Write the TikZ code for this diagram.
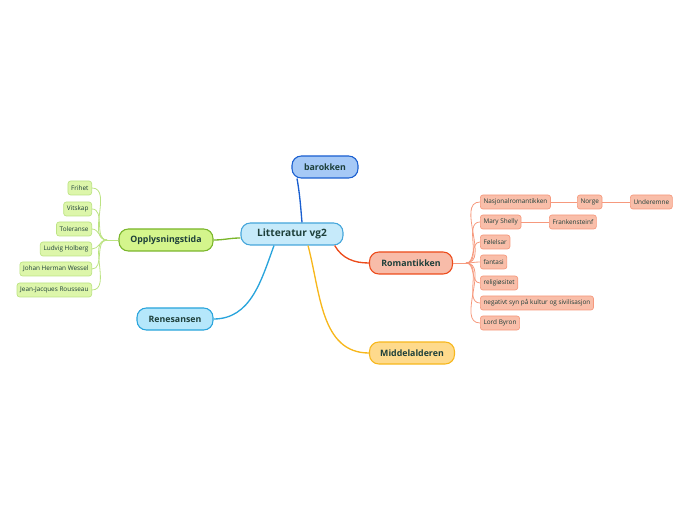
\documentclass[tikz,border=0pt]{standalone}
\usepackage{fontspec}
\setmainfont{Open Sans}
\usetikzlibrary{positioning}

\definecolor{txt}{HTML}{1D3F3A}
\definecolor{rootfill}{HTML}{C6EAFA}
\definecolor{rootline}{HTML}{45A6DB}
\definecolor{barfill}{HTML}{A6C9F6}
\definecolor{barline}{HTML}{1A5FD0}
\definecolor{oppfill}{HTML}{D4F58C}
\definecolor{oppline}{HTML}{7AB62A}
\definecolor{oppleaf}{HTML}{DDF6AA}
\definecolor{oppleafline}{HTML}{BCE383}
\definecolor{romfill}{HTML}{F8BCA9}
\definecolor{romline}{HTML}{EC4B1B}
\definecolor{romleaf}{HTML}{F9BEA9}
\definecolor{romleafline}{HTML}{F6997D}
\definecolor{renfill}{HTML}{B5E7FB}
\definecolor{renline}{HTML}{29A4DC}
\definecolor{midfill}{HTML}{FEDA8C}
\definecolor{midline}{HTML}{F7B71C}

\begin{document}
\begin{tikzpicture}[x=0.75pt,y=-0.75pt,
  topic/.style={draw, line width=0.8pt, rounded corners=7pt, minimum height=16.5pt,
    inner xsep=2pt, text=txt, font=\fontsize{6.6}{7}\selectfont\bfseries},
  leaf/.style={draw, line width=0.5pt, rounded corners=2pt, minimum height=10.5pt,
    inner xsep=2.4pt, inner ysep=0pt, text=txt, font=\fontsize{4.8}{5}\selectfont}]
\useasboundingbox (0,0) rectangle (696,520);

% main topics
\node[topic, fill=rootfill, draw=rootline, minimum width=76.5pt, font=\fontsize{7.6}{8}\selectfont\bfseries] (root) at (292,234) {Litteratur vg2};
\node[topic, fill=barfill, draw=barline, minimum width=49.5pt] (bar) at (325,167) {barokken};
\node[topic, fill=oppfill, draw=oppline, minimum width=70.5pt] (opp) at (166,240) {Opplysningstida};
\node[topic, fill=romfill, draw=romline, minimum width=62.25pt] (rom) at (411,263) {Romantikken};
\node[topic, fill=renfill, draw=renline, minimum width=57pt] (ren) at (175,319) {Renesansen};
\node[topic, fill=midfill, draw=midline, minimum width=63.75pt] (mid) at (412,353) {Middelalderen};

\draw[barline, line width=1pt] ([xshift=7.5pt]root.north) to[out=95,in=-80] ([xshift=-21pt]bar.south);
\draw[oppline, line width=1pt] ([yshift=-3pt]root.west) to[out=180,in=0] (opp.east);
\draw[renline, line width=1pt] ([xshift=-13.5pt]root.south) to[out=-110,in=0] (ren.east);
\draw[midline, line width=1pt] ([xshift=12pt]root.south) to[out=-75,in=180] (mid.west);
\draw[romline, line width=1pt] ([xshift=32pt]root.south) to[out=-60,in=180] (rom.west);

% Opplysningstida
\node[leaf, fill=oppleaf, draw=oppleafline, anchor=east] (o1) at (92,188) {Frihet};
\node[leaf, fill=oppleaf, draw=oppleafline, anchor=east] (o2) at (92,209) {Vitskap};
\node[leaf, fill=oppleaf, draw=oppleafline, anchor=east] (o3) at (92,229) {Toleranse};
\node[leaf, fill=oppleaf, draw=oppleafline, anchor=east] (o4) at (92,249) {Ludvig Holberg};
\node[leaf, fill=oppleaf, draw=oppleafline, anchor=east] (o5) at (92,269) {Johan Herman Wessel};
\node[leaf, fill=oppleaf, draw=oppleafline, anchor=east] (o6) at (92,290) {Jean-Jacques Rousseau};
\coordinate (oppfan) at (107,240);
\draw[oppleafline, line width=0.6pt] (opp.west) -- (oppfan);
\foreach \n in {o1,o2,o3,o4,o5,o6}
  \draw[oppleafline, line width=0.6pt] (oppfan) to[out=180,in=0] (\n.east);

% Romantikken
\node[leaf, fill=romleaf, draw=romleafline, anchor=west] (r1) at (480,202) {Nasjonalromantikken};
\node[leaf, fill=romleaf, draw=romleafline, anchor=west] (r2) at (480,222) {Mary Shelly};
\node[leaf, fill=romleaf, draw=romleafline, anchor=west] (r3) at (480,242) {Følelsar};
\node[leaf, fill=romleaf, draw=romleafline, anchor=west] (r4) at (480,262) {fantasi};
\node[leaf, fill=romleaf, draw=romleafline, anchor=west] (r5) at (480,283) {religiøsitet};
\node[leaf, fill=romleaf, draw=romleafline, anchor=west] (r6) at (480,303) {negativt syn på kultur og sivilisasjon};
\node[leaf, fill=romleaf, draw=romleafline, anchor=west] (r7) at (480,323) {Lord Byron};
\node[leaf, fill=romleaf, draw=romleafline, anchor=west] (norge) at (577,202) {Norge};
\node[leaf, fill=romleaf, draw=romleafline, anchor=west] (under) at (630,202) {Underemne};
\node[leaf, fill=romleaf, draw=romleafline, anchor=west] (frank) at (549,222) {Frankensteinf};
\coordinate (romfan) at (466,263);
\draw[romleafline, line width=0.6pt] (rom.east) -- (romfan);
\foreach \n in {r1,r2,r3,r4,r5,r6,r7}
  \draw[romleafline, line width=0.6pt] (romfan) to[out=0,in=180] (\n.west);
\draw[romleafline, line width=0.6pt] (r1) -- (norge);
\draw[romleafline, line width=0.6pt] (norge) -- (under);
\draw[romleafline, line width=0.6pt] (r2) -- (frank);
\end{tikzpicture}
\end{document}
